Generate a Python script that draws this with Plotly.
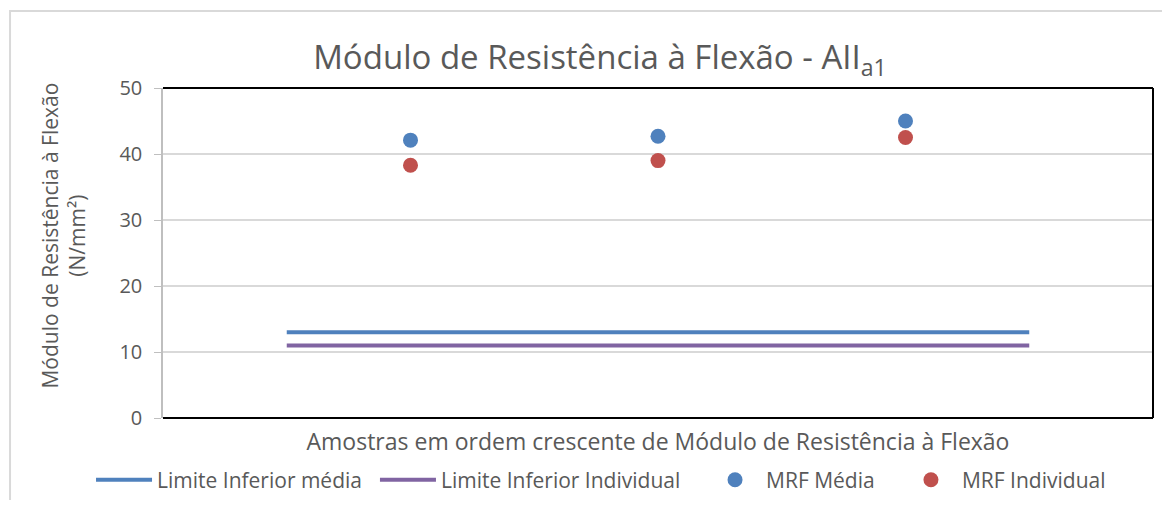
import plotly.graph_objects as go

# data
amostras = [1, 2, 3]
mrf_media = [42.1, 42.7, 45.0]
mrf_individual = [38.3, 39.0, 42.5]

limite_x = [0.5, 3.5]
limite_media = [13, 13]
limite_individual = [11, 11]

y_ticks = [0, 10, 20, 30, 40, 50]

FONT = "Open Sans"
GREY = "#595959"

fig = go.Figure()

fig.add_trace(go.Scatter(x=limite_x, y=limite_media, mode="lines",
                         name="Limite Inferior média", legend="legend2",
                         line=dict(color="#4F81BD", width=4)))
fig.add_trace(go.Scatter(x=limite_x, y=limite_individual, mode="lines",
                         name="Limite Inferior Individual", legend="legend3",
                         line=dict(color="#8064A2", width=4)))
fig.add_trace(go.Scatter(x=amostras, y=mrf_media, mode="markers",
                         name="MRF Média", legend="legend4",
                         marker=dict(color="#4F81BD", size=15)))
fig.add_trace(go.Scatter(x=amostras, y=mrf_individual, mode="markers",
                         name="MRF Individual", legend="legend5",
                         marker=dict(color="#C0504D", size=15)))

shapes = []
# outer chart border (only top and left visible in the crop)
shapes.append(dict(type="rect", xref="paper", yref="paper",
                   x0=-0.1545, x1=1.2, y0=-0.6, y1=1.2333,
                   line=dict(color="#D9D9D9", width=2), layer="below"))
# plot frame: top, right, bottom in black
for x0, x1, y0, y1 in [(0, 1, 1, 1), (1, 1, 0, 1), (0, 1, 0, 0)]:
    shapes.append(dict(type="line", xref="paper", yref="paper",
                       x0=x0, x1=x1, y0=y0, y1=y1,
                       line=dict(color="black", width=2)))


def leg(x, iw):
    return dict(orientation="h", x=x, xanchor="left", y=-0.188, yanchor="middle",
                font=dict(size=21, color=GREY), itemwidth=iw,
                bgcolor="rgba(0,0,0,0)")


annotations = [dict(xref="paper", yref="paper", x=-0.1015, y=0.5515,
                    xanchor="center", yanchor="middle", textangle=-90,
                    text="Módulo de Resistência à Flexão<br>(N/mm²)",
                    font=dict(size=21, color=GREY), showarrow=False)]

fig.update_layout(
    width=1154, height=492,
    margin=dict(l=155, r=9, t=80, b=82, autoexpand=False),
    paper_bgcolor="white", plot_bgcolor="white",
    font=dict(family=FONT, color=GREY),
    title=dict(text="Módulo de Resistência à Flexão - AII<sub>a1</sub>",
               x=0.513, xanchor="center", y=0.90, yanchor="middle",
               font=dict(size=33, color=GREY)),
    xaxis=dict(range=[0, 4], showticklabels=False, showgrid=False,
               zeroline=False, ticks="", automargin=False,
               title=dict(text="Amostras em ordem crescente de Módulo de Resistência à Flexão",
                          font=dict(size=23, color=GREY), standoff=15)),
    yaxis=dict(range=[0, 50], tickvals=y_ticks, showgrid=True,
               gridcolor="#D9D9D9", gridwidth=1.5, zeroline=False,
               showline=True, linecolor="#BFBFBF", linewidth=1.5,
               ticks="outside", ticklen=7, tickcolor="#BFBFBF",
               ticklabelstandoff=8, automargin=False,
               tickfont=dict(size=20, color=GREY)),
    showlegend=True,
    legend2=leg(-0.0727, 56),
    legend3=leg(0.2141, 56),
    legend4=leg(0.5465, 52),
    legend5=leg(0.7444, 52),
    annotations=annotations,
    shapes=shapes,
)

fig.write_html("out.html")
